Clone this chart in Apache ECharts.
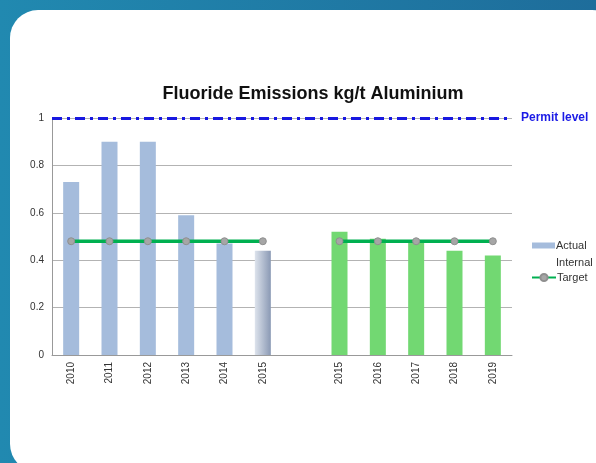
<!DOCTYPE html>
<html>
<head>
<meta charset="utf-8">
<script src="https://cdn.jsdelivr.net/npm/echarts@6/dist/echarts.min.js"></script>
<style>
  html, body { margin: 0; padding: 0; }
  #chart { width: 596px; height: 463px; }
</style>
</head>
<body>
<div id="chart"></div>
<script>
// years on the x axis, the blank one is the gap between the two groups
var years = ['2010', '2011', '2012', '2013', '2014', '2015', '', '2015', '2016', '2017', '2018', '2019'];
var actual = [0.73, 0.90, 0.90, 0.59, 0.47, 0.44, null, null, null, null, null, null];
var plan = [null, null, null, null, null, null, null, 0.52, 0.49, 0.48, 0.44, 0.42];
var target = [0.48, 0.48, 0.48, 0.48, 0.48, 0.48, null, 0.48, 0.48, 0.48, 0.48, 0.48];
var permitLevel = 1;
var yTicks = [0, 0.2, 0.4, 0.6, 0.8, 1];

var chart = echarts.init(document.getElementById('chart'));

// last actual bar (2015) is shaded
var actualData = actual.map(function (v, i) {
  if (v === null) return '-';
  if (i === 5) {
    return {
      value: v,
      itemStyle: {
        color: new echarts.graphic.LinearGradient(0, 0, 1, 0, [
          { offset: 0, color: '#dde3ec' },
          { offset: 1, color: '#8a99b4' }
        ])
      }
    };
  }
  return v;
});

var option = {
  backgroundColor: new echarts.graphic.LinearGradient(0, 0, 1, 0, [
    { offset: 0, color: '#2189b0' },
    { offset: 1, color: '#1e6d9b' }
  ]),
  graphic: [{
    type: 'rect',
    z: -10,
    shape: { x: 10, y: 10, width: 610, height: 462, r: 28 },
    style: { fill: '#ffffff' }
  }, {
    // first line of the "Internal Target" legend label
    type: 'text',
    left: 556,
    top: 257,
    style: { text: 'Internal', font: '11px "Liberation Sans"', fill: '#333' }
  }],
  title: {
    text: 'Fluoride Emissions kg/t Aluminium',
    left: 308,
    textAlign: 'center',
    top: 80,
    textStyle: { fontFamily: 'Liberation Sans', fontSize: 18, fontWeight: 'bold', color: '#111' }
  },
  legend: [{
    data: ['Actual'],
    left: 532,
    top: 240,
    padding: 0,
    icon: 'rect',
    itemWidth: 23,
    itemHeight: 6,
    textStyle: { fontFamily: 'Liberation Sans', fontSize: 11, color: '#333', padding: [0, 0, 0, -4] }
  }, {
    data: ['Internal Target'],
    left: 531,
    top: 272,
    padding: 0,
    itemWidth: 24,
    itemHeight: 9,
    formatter: function () { return 'Target'; },
    textStyle: { fontFamily: 'Liberation Sans', fontSize: 11, color: '#333', padding: [0, 0, 0, -4] }
  }],
  grid: { left: 52, right: 84, top: 118, bottom: 108 },
  xAxis: {
    type: 'category',
    data: years,
    axisTick: { show: false },
    axisLine: { lineStyle: { color: '#999', width: 1 } },
    axisLabel: {
      rotate: 90,
      interval: 0,
      margin: 7,
      fontFamily: 'Liberation Sans',
      fontSize: 10,
      color: '#333'
    }
  },
  yAxis: {
    type: 'value',
    min: 0,
    max: 1,
    interval: 0.2,
    axisLine: { show: true, lineStyle: { color: '#999' } },
    axisTick: { show: false },
    axisLabel: {
      margin: 8,
      fontFamily: 'Liberation Sans',
      fontSize: 10,
      color: '#333',
      customValues: yTicks,
      formatter: function (v) { return String(Math.round(v * 10) / 10); }
    },
    splitLine: { lineStyle: { color: '#b3b3b3', width: 1 } }
  },
  series: [{
    name: 'Actual',
    type: 'bar',
    barWidth: 16,
    barGap: '-100%',
    itemStyle: { color: '#a5bcdc' },
    data: actualData,
    markLine: {
      silent: true,
      symbol: 'none',
      lineStyle: { color: '#1818e0', width: 3, type: [10, 5, 3, 5] },
      label: {
        show: true,
        position: 'end',
        distance: 9,
        formatter: 'Permit level',
        color: '#1a1ae6',
        fontWeight: 'bold',
        fontFamily: 'Liberation Sans',
        fontSize: 12
      },
      data: [{ yAxis: permitLevel }]
    }
  }, {
    name: 'Plan',
    type: 'bar',
    barWidth: 16,
    barGap: '-100%',
    itemStyle: { color: '#72d872' },
    data: plan.map(function (v) { return v === null ? '-' : v; })
  }, {
    name: 'Internal Target',
    type: 'line',
    z: 5,
    data: target.map(function (v) { return v === null ? '-' : v; }),
    symbol: 'circle',
    symbolSize: 7,
    lineStyle: { color: '#00b050', width: 3.5 },
    itemStyle: { color: '#a6a6a6', borderColor: '#8f8f8f', borderWidth: 1 }
  }]
};

chart.setOption(option);
</script>
</body>
</html>
